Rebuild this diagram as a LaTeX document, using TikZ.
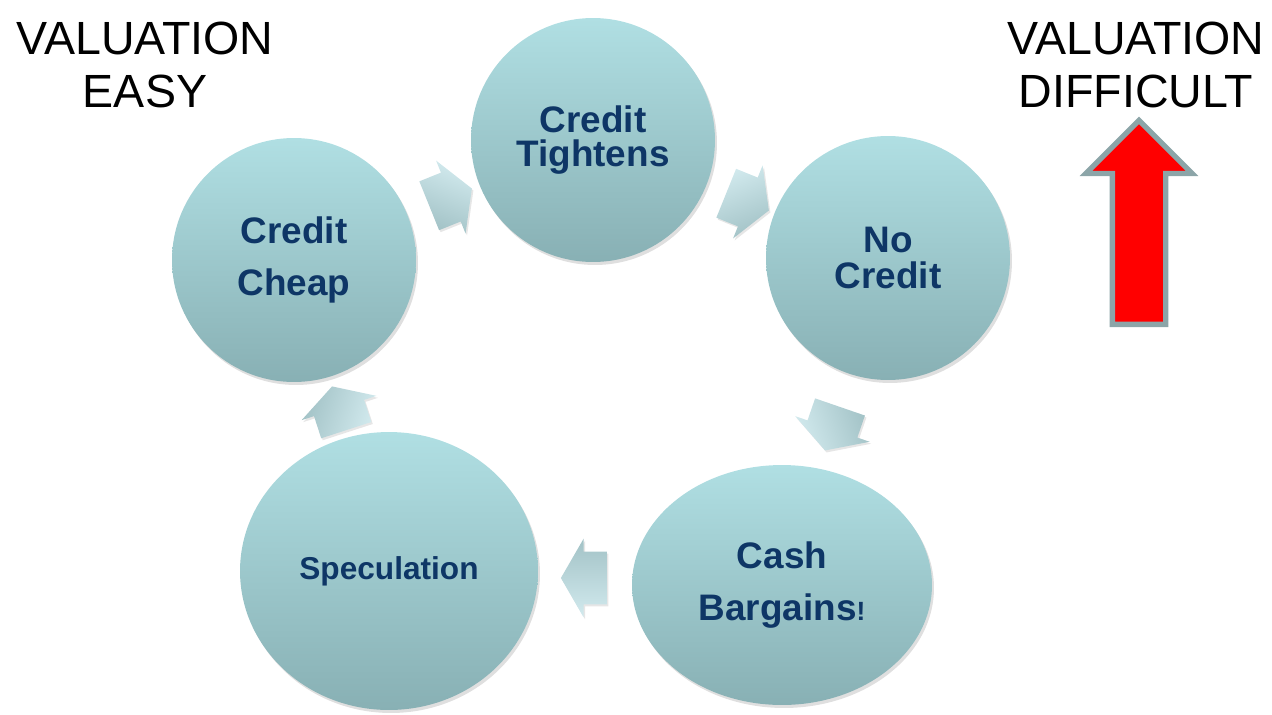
\documentclass[tikz,border=0pt]{standalone}
\usepackage{fontspec}
\setmainfont{Liberation Sans}
\definecolor{bubtop}{RGB}{176,223,227}
\definecolor{bubbot}{RGB}{136,176,180}
\definecolor{arrtop}{RGB}{210,234,238}
\definecolor{arrbot}{RGB}{162,194,198}
\definecolor{navytext}{RGB}{14,54,102}
\definecolor{arrowgray}{RGB}{140,165,168}
\usetikzlibrary{calc, shapes.geometric, shapes.arrows, shadows}

\begin{document}
\begin{tikzpicture}[x=0.02cm, y=-0.02cm,
    bubble/.style={ellipse, top color=bubtop, bottom color=bubbot, text=navytext, align=center, inner sep=0pt,
        drop shadow={opacity=0.25, shadow xshift=0.04cm, shadow yshift=-0.06cm},
        font=\bfseries\fontsize{21}{30}\selectfont},
    cycarrow/.style={single arrow, minimum height=0.92cm, inner xsep=0pt, inner ysep=0.52cm, single arrow head extend=0.26cm,
        single arrow tip angle=120, rotate=#1, top color=arrtop, bottom color=arrbot, shading angle=-#1,
        drop shadow={opacity=0.2, shadow xshift=0.03cm, shadow yshift=-0.04cm}},
    uparrow/.style={single arrow, rotate=90, minimum height=4.08cm, inner xsep=0pt, inner ysep=0.48cm, single arrow head extend=0.53cm,
        single arrow tip angle=90, fill=red, draw=arrowgray, line width=3pt},
    heading/.style={align=center, font=\fontsize{26.5}{30}\selectfont}
]
    \useasboundingbox (0,0) rectangle (1272,714);

    \node[heading] (easy) at (145,65) {VALUATION\\EASY};
    \node[heading] (difficult) at (1136,65) {VALUATION\\DIFFICULT};

    \node[bubble, minimum width=4.88cm, minimum height=4.88cm] (cheap) at (294,260) {Credit\\Cheap};
    \node[bubble, minimum width=4.88cm, minimum height=4.88cm, font=\bfseries\fontsize{21}{19}\selectfont] (tight) at (593,140) {Credit\\Tightens};
    \node[bubble, minimum width=4.88cm, minimum height=4.88cm, font=\bfseries\fontsize{21}{21}\selectfont] (nocredit) at (888,258) {No\\Credit};
    \node[bubble, minimum width=6cm, minimum height=4.8cm] (cash) at (782,585) {Cash\\Bargains{\fontsize{15}{15}\selectfont!}};
    \node[bubble, minimum width=5.96cm, minimum height=5.56cm, font=\bfseries\fontsize{18}{21}\selectfont] (spec) at (389,571) {Speculation};

    \node[cycarrow=22] (a1) at ($(cheap)!0.5!(tight)$) {};
    \node[cycarrow=-22] (a2) at ($(tight)!0.5!(nocredit)$) {};
    \node[cycarrow=-109] (a3) at ($(nocredit)!0.5!(cash)$) {};
    \node[cycarrow=180] (a4) at ($(cash)!0.5!(spec) + (6,0)$) {};
    \node[cycarrow=108] (a5) at ($(spec)!0.5!(cheap)$) {};

    \node[uparrow, anchor=tail] (up) at (1139,327) {};
\end{tikzpicture}
\end{document}
